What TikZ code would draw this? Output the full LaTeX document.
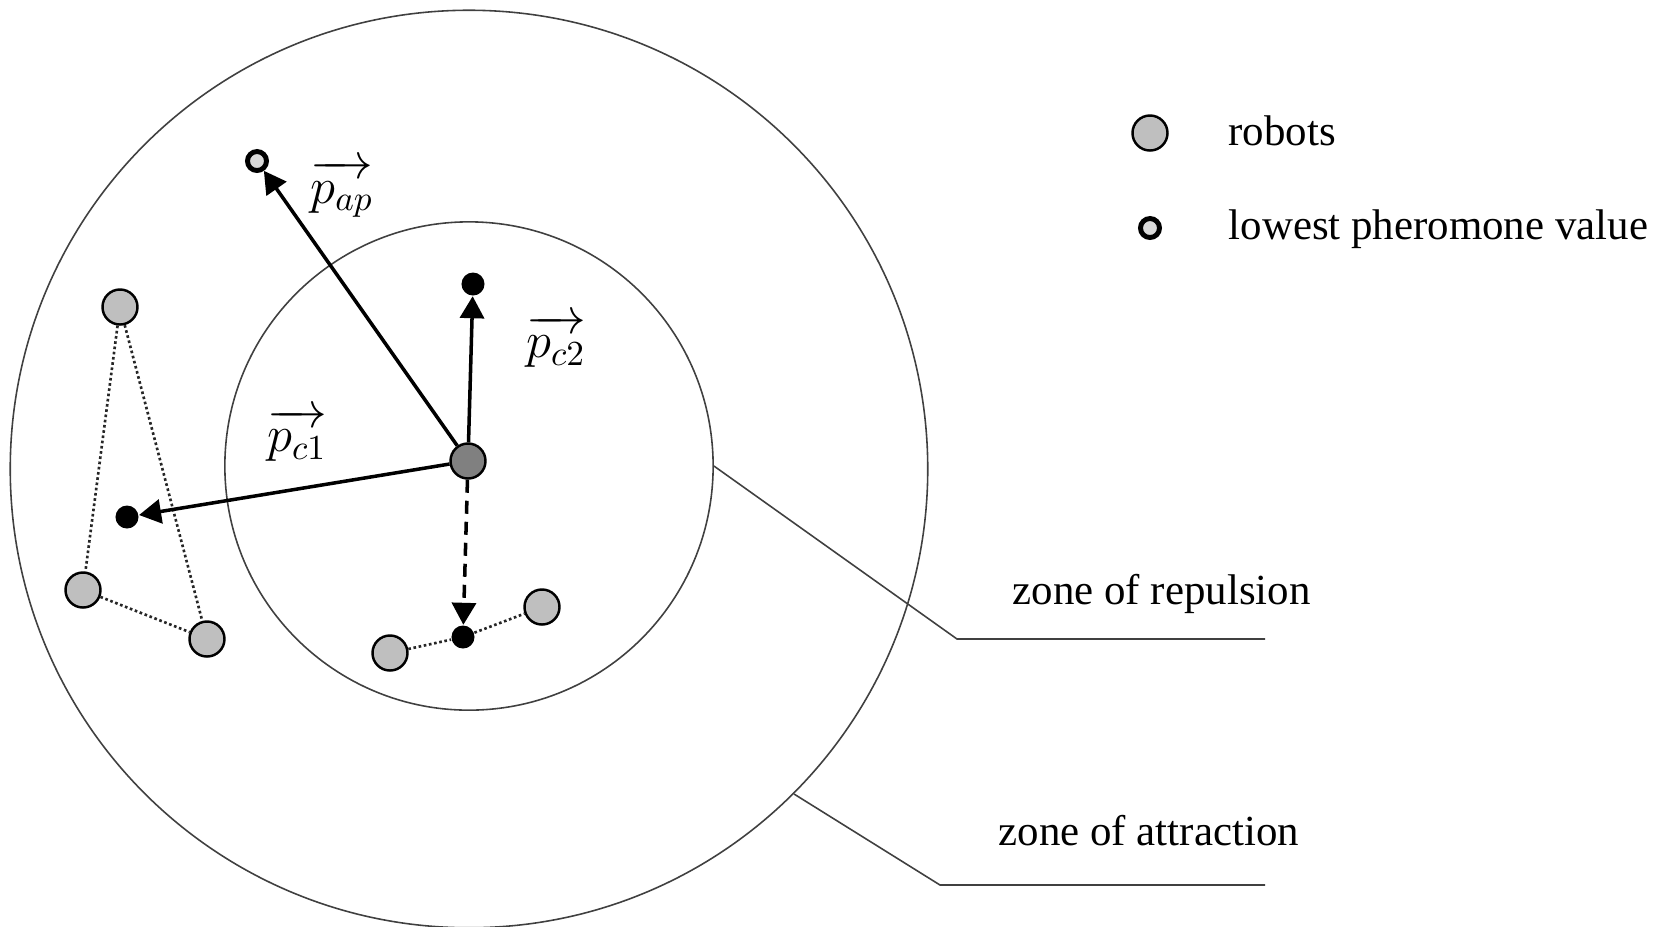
\documentclass[tikz,border=0pt]{standalone}
\usepackage{fontspec}
\setmainfont{Liberation Serif}
\usepackage{amsmath}
\usetikzlibrary{arrows.meta}

\newcommand{\vecl}[1]{\overrightarrow{\rule{0pt}{7pt}#1}}

\begin{document}
\begin{tikzpicture}[x=0.01cm,y=-0.01cm,
  every node/.style={inner sep=0pt},
  zone/.style={circle,draw=black!75,line width=0.45pt},
  robot/.style={circle,draw=black,fill=black!25,line width=0.7pt,minimum size=0.35cm},
  self/.style={robot,fill=black!50},
  goal/.style={circle,fill=black,minimum size=0.23cm},
  phero/.style={circle,draw=black,fill=black!15,line width=1.4pt,minimum size=0.19cm},
  vec/.style={-{Triangle[length=0.22cm,width=0.24cm]},line width=1pt},
  vecdash/.style={vec,dash pattern=on 0.13cm off 0.08cm},
  link/.style={draw=black!85,line width=0.75pt,dash pattern=on 0.75pt off 0.75pt},
  lead/.style={draw=black!75,line width=0.45pt},
  txt/.style={font=\fontsize{12.2}{14}\selectfont,anchor=base west},
  lbl/.style={font=\fontsize{14}{16}\selectfont}
]
  \useasboundingbox (0,0) rectangle (1662,926);
  \node[zone,minimum size=9.17cm] (att) at (469,469) {};
  \node[zone,minimum size=4.88cm] (rep) at (469,466) {};
  \coordinate (repk) at (957,639);
  \coordinate (repe) at (1265,639);
  \coordinate (attk) at (940,885);
  \coordinate (atte) at (1265,885);
  \draw[lead] (rep.east) -- (repk) -- (repe);
  \draw[lead] (att.-45) -- (attk) -- (atte);
  \node[txt] (reptxt) at (1012,604) {zone of repulsion};
  \node[txt] (atttxt) at (998,845) {zone of attraction};
  \node[robot] (r1) at (120,307) {};
  \node[robot] (r2) at (83,590) {};
  \node[robot] (r3) at (207,639) {};
  \node[robot] (r4) at (390,653) {};
  \node[robot] (r5) at (542,607) {};
  \node[goal] (g1) at (127,517) {};
  \node[goal] (g2) at (473,284) {};
  \node[goal] (g3) at (463,637) {};
  \node[phero] (ph) at (257,161) {};
  \node[self] (me) at (468,461) {};
  \draw[link] (r1) -- (r2);
  \draw[link] (r1) -- (r3);
  \draw[link] (r2) -- (r3);
  \draw[link] (r4) -- (g3) -- (r5);
  \draw[vec] (me) -- (ph);
  \draw[vec] (me) -- (g2);
  \draw[vec] (me) -- (g1);
  \draw[vecdash] (me) -- (g3);
  \node[lbl] (lap) at (342,189) {$\vecl{p_{ap}}$};
  \node[lbl] (lc2) at (556,341) {$\vecl{p_{c2}}$};
  \node[lbl] (lc1) at (297,435) {$\vecl{p_{c1}}$};
  \node[robot] (keyr) at (1150,133) {};
  \node[txt] (keyrtxt) at (1228,145) {robots};
  \node[phero] (keyp) at (1150,228) {};
  \node[txt] (keyptxt) at (1228,239) {lowest pheromone value};
\end{tikzpicture}
\end{document}
